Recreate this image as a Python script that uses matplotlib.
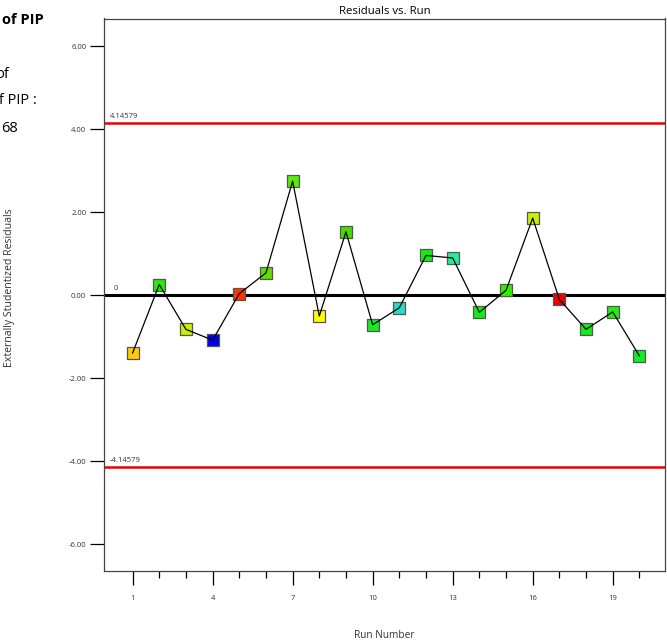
import numpy as np
import matplotlib
matplotlib.use("Agg")
import matplotlib.pyplot as plt
from matplotlib.ticker import FixedLocator

plt.rcParams['font.family'] = ['Open Sans', 'DejaVu Sans']

# data
runs = list(range(1, 21))
residuals = [-1.39, 0.26, -0.82, -1.08, 0.04, 0.54, 2.75, -0.50, 1.53, -0.71,
             -0.30, 0.96, 0.90, -0.41, 0.12, 1.86, -0.10, -0.82, -0.40, -1.46]
point_colors = ['#FFCC00', '#22EE00', '#CCEE00', '#0000EE', '#FF3300', '#66DD00',
                '#55EE00', '#FFFF00', '#44DD00', '#11EE22', '#22DDCC', '#11EE11',
                '#22EE99', '#11EE11', '#33EE00', '#CCEE00', '#EE0000', '#11EE11',
                '#22EE11', '#11EE22']
limit = 4.14579
major_ticks = [1, 4, 7, 10, 13, 16, 19]
y_ticks = [-6, -4, -2, 0, 2, 4, 6]

W, H = 667, 640
fig = plt.figure(figsize=(W / 100, H / 100), dpi=100)
ax = fig.add_axes([104.3 / W, 1 - 571.3 / H, (665 - 104.3) / W, (571.3 - 18.5) / H])

ax.axhline(limit, color='#EE0000', lw=1.8, zorder=1)
ax.axhline(-limit, color='#EE0000', lw=1.8, zorder=1)
ax.axhline(0, color='black', lw=2.2, zorder=1)

ax.scatter(runs, residuals, marker='s', s=75, c=point_colors,
           edgecolors='#555555', linewidths=0.9, zorder=2)
ax.plot(runs, residuals, color='black', lw=0.9, zorder=3)

ax.text(0.15, limit + 0.08, '4.14579', fontsize=5.5, color='#333333', va='bottom')
ax.text(0.15, -limit + 0.08, '-4.14579', fontsize=5.5, color='#333333', va='bottom')
ax.text(0.3, 0.08, '0', fontsize=5.5, color='#333333', va='bottom')

ax.set_xlim(-0.06, 20.96)
ax.set_ylim(-6.65, 6.67)

ax.xaxis.set_major_locator(FixedLocator(major_ticks))
ax.xaxis.set_minor_locator(FixedLocator(runs))
ax.set_yticks(y_ticks)
ax.set_yticklabels(['%.2f' % v for v in y_ticks])
ax.tick_params(axis='x', which='major', direction='out', length=10, width=0.9,
               labelsize=5.5, pad=7, labelcolor='#333333')
ax.tick_params(axis='x', which='minor', direction='out', length=5, width=0.9)
ax.tick_params(axis='y', direction='out', length=10, width=0.9,
               labelsize=5.5, pad=3, labelcolor='#333333')
for sp in ax.spines.values():
    sp.set_color('#444444')
    sp.set_linewidth(0.9)

ax.set_title('Residuals vs. Run', fontsize=8.2, pad=3)
ax.set_xlabel('Run Number', fontsize=7.3, labelpad=20, color='#333333')
fig.text(10 / W, 1 - 288 / H, 'Externally Studentized Residuals', fontsize=7.6,
         rotation=90, ha='center', va='center', color='#333333')

# cut-off text from the neighbouring panel
fig.text(44 / W, 1 - 20 / H, 'of PIP', fontsize=10.5, fontweight='bold', ha='right', va='center')
fig.text(9 / W, 1 - 75 / H, 'of', fontsize=10.5, ha='right', va='center')
fig.text(37 / W, 1 - 100 / H, 'of PIP :', fontsize=10.5, ha='right', va='center')
fig.text(18 / W, 1 - 128 / H, '68', fontsize=10.5, ha='right', va='center')

fig.savefig('out.png', dpi=100)
